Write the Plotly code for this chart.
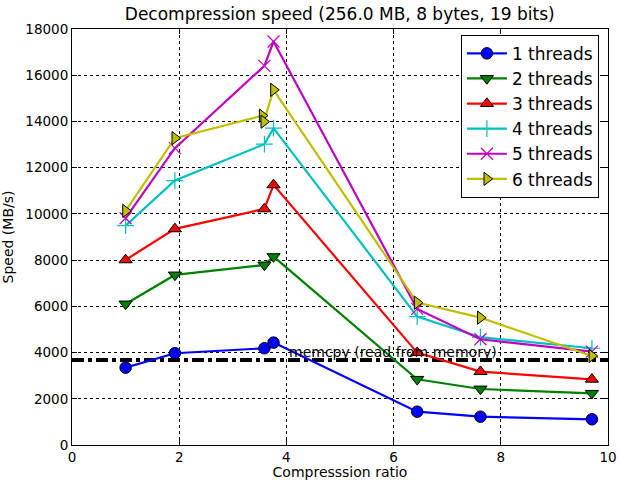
import plotly.graph_objects as go

ratio = [1.0, 1.92, 3.59, 3.76, 6.44, 7.62, 9.70]
ratio_6 = [1.0, 1.92, 3.55, 3.58, 3.76, 6.44, 7.62, 9.70]

speed_1 = [3346, 3970, 4186, 4430, 1442, 1225, 1112]
speed_2 = [6104, 7359, 7792, 8153, 2843, 2424, 2236]
speed_3 = [8009, 9351, 10216, 11255, 3996, 3173, 2843]
speed_4 = [9494, 11442, 13017, 13710, 5554, 4662, 4186]
speed_5 = [9812, 12844, 16407, 17459, 5887, 4576, 4040]
speed_6 = [10130, 13277, 14250, 13990, 15368, 6160, 5511, 3853]

memcpy_speed = 3680
memcpy_label = "memcpy (read from memory)"

labels = ["1 threads", "2 threads", "3 threads", "4 threads", "5 threads", "6 threads"]
colors = ["#0000ff", "#008000", "#ff0000", "#00bfbf", "#bf00bf", "#bfbf00"]
symbols = ["circle", "triangle-down", "triangle-up", "cross-thin", "x-thin", "triangle-right"]
xs = [ratio, ratio, ratio, ratio, ratio, ratio_6]
ys = [speed_1, speed_2, speed_3, speed_4, speed_5, speed_6]

fig = go.Figure()

fig.add_trace(go.Scatter(
    x=[0, 10], y=[memcpy_speed, memcpy_speed], mode="lines",
    line=dict(color="black", width=4, dash="dashdot"),
    showlegend=False, hoverinfo="skip"))

for x, y, lab, col, sym in zip(xs, ys, labels, colors, symbols):
    thin = sym.endswith("thin")
    fig.add_trace(go.Scatter(
        x=x, y=y, mode="lines+markers", name=lab,
        line=dict(color=col, width=2.2),
        marker=dict(symbol=sym, size=12 if thin else 11.5, color=col,
                    line=dict(color=col if thin else "black", width=1.2 if thin else 1))))

fig.add_annotation(x=4.02, y=memcpy_speed, yanchor="bottom", xanchor="left",
                   text=memcpy_label, showarrow=False,
                   font=dict(size=14, color="black", family="DejaVu Sans"), yshift=-2)

axis_common = dict(showline=True, linecolor="black", linewidth=1, mirror="ticks",
                   ticks="inside", ticklen=5, tickcolor="black",
                   showgrid=True, gridcolor="black", griddash="dot", gridwidth=1,
                   zeroline=False, tickfont=dict(size=13.5, color="black"),
                   automargin=False, tickformat="d")

fig.update_layout(
    width=620, height=480,
    margin=dict(l=72, r=12, t=29, b=35),
    paper_bgcolor="white", plot_bgcolor="white",
    font=dict(family="DejaVu Sans", color="black"),
    title=dict(text="Decompression speed (256.0 MB, 8 bytes, 19 bits)",
               x=0.548, xanchor="center", y=0.97, yanchor="middle",
               font=dict(size=17, color="black")),
    xaxis=dict(range=[0, 10], dtick=2, tick0=0,
               title=dict(text="Compresssion ratio", font=dict(size=14), standoff=2),
               **axis_common),
    yaxis=dict(range=[0, 18000], dtick=2000, tick0=0,
               title=dict(text="Speed (MB/s)", font=dict(size=14), standoff=8),
               **axis_common),
    legend=dict(x=0.983, y=0.986, xanchor="right", yanchor="top",
                bgcolor="white", bordercolor="black", borderwidth=1,
                font=dict(size=17, color="black"), itemwidth=40),
)

fig.write_html("out.html",
               config={"displayModeBar": False},
               post_script="document.body.style.margin='0';document.body.style.padding='0';")
